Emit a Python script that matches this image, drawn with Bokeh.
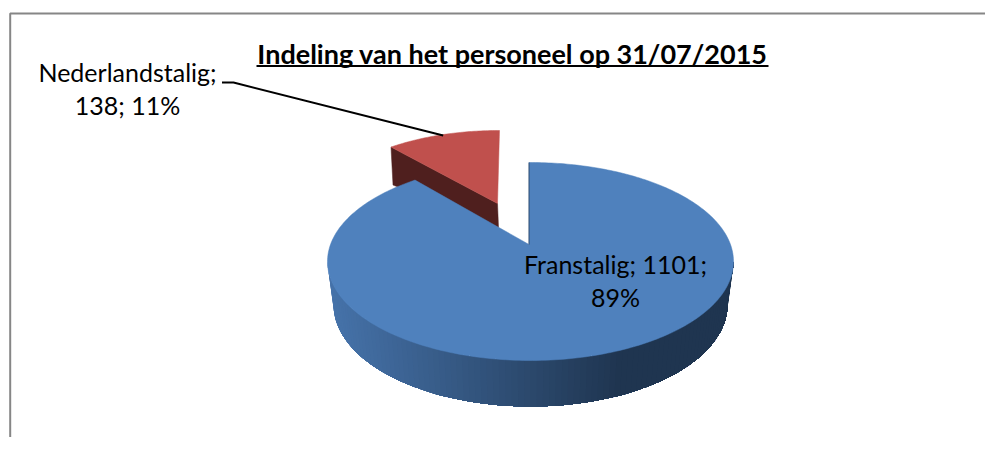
import math
from bokeh.plotting import figure
from bokeh.models import ColumnDataSource, Range1d
from bokeh.core.properties import value
from bokeh.embed import file_html
from bokeh.resources import INLINE

title = "Indeling van het personeel op 31/07/2015"
categories = ["Franstalig", "Nederlandstalig"]
values = [1101, 138]
percent_labels = ["89%", "11%"]

FONT = "Lato"
BLUE, RED, RED_WALL = "#4f81bd", "#c0504d", "#4f1f1e"


def ray_hit(apex, centre, rx, ry, phi, k, lean=0.0):
    dx, dy = math.sin(phi) + lean * math.cos(phi), -math.cos(phi) * k
    ox, oy = apex[0] - centre[0], apex[1] - centre[1]
    a = (dx / rx) ** 2 + (dy / ry) ** 2
    b = 2 * (ox * dx / rx ** 2 + oy * dy / ry ** 2)
    c = (ox / rx) ** 2 + (oy / ry) ** 2 - 1
    s = (-b + math.sqrt(b * b - 4 * a * c)) / (2 * a)
    return apex[0] + s * dx, apex[1] + s * dy


def sector(apex, centre, rx, ry, start, end, n, k, lean=0.0):
    pts = [ray_hit(apex, centre, rx, ry, start + (end - start) * i / n, k, lean) for i in range(n + 1)]
    return [apex] + pts


def mix(a, b, t):
    t = max(0, min(1, t))
    return "#%02x%02x%02x" % tuple(round(a[i] + (b[i] - a[i]) * t) for i in range(3))


total = sum(values)
blue_sweep = 2 * math.pi * values[0] / total

p = figure(width=985, height=437, output_backend="svg", toolbar_location=None,
           x_range=Range1d(0, 985), y_range=Range1d(437, 0),
           min_border=0, outline_line_color=None, background_fill_color="white",
           border_fill_color="white")
p.axis.visible = False
p.grid.visible = False

# chart frame
p.line([9.7, 9.7, 985], [437, 13, 13], line_color="#868686", line_width=2)

# red slice
red_apex, red_c, red_rx, red_ry = (497, 203), (498, 220), 186, 90
red_pts = sector(red_apex, red_c, red_rx, red_ry, blue_sweep, 2 * math.pi, 50, 0.44, 0.012)
left_corner = red_pts[1]
p.patch([left_corner[0], red_apex[0], red_apex[0] + 1, left_corner[0] + 2],
        [left_corner[1], red_apex[1], red_apex[1] + 24, left_corner[1] + 38],
        fill_color=RED_WALL, line_color=RED_WALL, line_width=0.5)
p.patch([q[0] for q in red_pts], [q[1] for q in red_pts], fill_color=RED, line_color=RED, line_width=0.5)

# blue side wall: each strip runs on to the end and is overpainted by the next
bc, brx, bry = (530, 261), 203, 99
wc, wrx, wry = (530, 304), 197, 102
light, dark = (70, 115, 170), (31, 53, 80)
n = 100
xs, ys, cols = [], [], []
for i in range(n):
    ts = [math.pi * j / n for j in range(i, n + 1)]
    top = [(bc[0] - brx * math.cos(t), bc[1] + bry * math.sin(t)) for t in ts]
    bot = [(wc[0] - wrx * math.cos(t), wc[1] + wry * math.sin(t)) for t in ts]
    outline = top + bot[::-1]
    xs.append([q[0] for q in outline])
    ys.append([q[1] for q in outline])
    cols.append(mix(light, dark, (top[0][0] - 327) / 290))
p.patches("x", "y", fill_color="c", line_color=None,
          source=ColumnDataSource(dict(x=xs, y=ys, c=cols)))

# blue slice
blue_apex = (528.5, 244)
blue_pts = sector(blue_apex, bc, brx, bry, 0, blue_sweep, 300, 0.476)
p.patch([q[0] for q in blue_pts], [q[1] for q in blue_pts], fill_color=BLUE, line_color=BLUE, line_width=0.5)
p.line([blue_apex[0], blue_pts[1][0]], [blue_apex[1], blue_pts[1][1]], line_color="#1f3550", line_width=1, line_alpha=0.7)

# leader line
p.line([221.5, 233, 442.7], [82, 82, 135], line_color="black", line_width=2)

# texts (Bokeh's alphabetic placement sits about 11px under the given y)
text_style = dict(text_font=value(FONT), text_color="black", text_align="center", text_baseline="alphabetic")
p.text([512], [53], text=[title], text_font_size="27px", text_font_style="bold", **text_style)
p.line([256, 768], [65.5, 65.5], line_color="black", line_width=2)
p.text([127, 127], [71, 104],
       text=[f"{categories[1]};", f"{values[1]}; {percent_labels[1]}"], text_font_size="25px", **text_style)
p.text([615, 615], [263, 296],
       text=[f"{categories[0]}; {values[0]};", percent_labels[0]], text_font_size="25px", **text_style)

open("out.html", "w").write(file_html(p, INLINE))
